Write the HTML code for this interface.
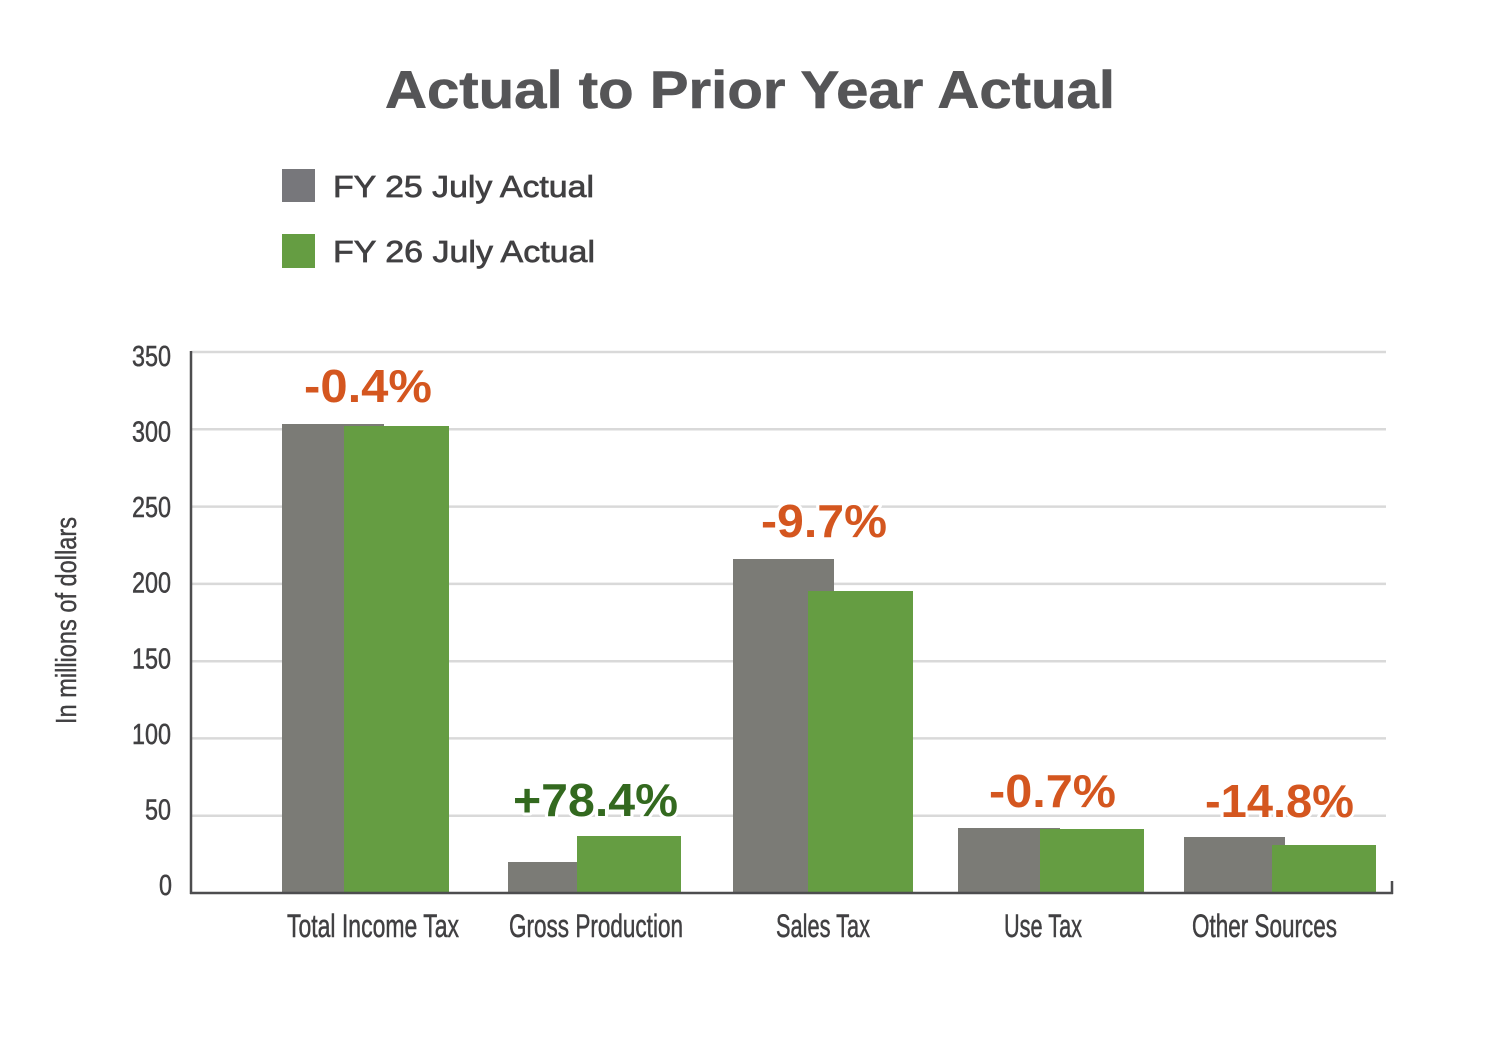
<!DOCTYPE html>
<html>
<head>
<meta charset="utf-8">
<style>
  html,body{margin:0;padding:0;background:#ffffff;}
  svg{display:block;}
  text{font-family:"Liberation Sans",sans-serif;}
</style>
</head>
<body>
<svg width="1500" height="1053" viewBox="0 0 1500 1053" xmlns="http://www.w3.org/2000/svg">
  <rect x="0" y="0" width="1500" height="1053" fill="#ffffff"/>

  <!-- Title -->
  <text x="385" y="108" font-size="53" font-weight="bold" fill="#555557" stroke="#555557" stroke-width="0.6" textLength="730" lengthAdjust="spacingAndGlyphs">Actual to Prior Year Actual</text>

  <!-- Legend -->
  <rect x="282" y="169" width="33" height="33" fill="#77777b"/>
  <text x="333" y="197" font-size="31" fill="#414042" stroke="#414042" stroke-width="0.7" textLength="261" lengthAdjust="spacingAndGlyphs">FY 25 July Actual</text>
  <rect x="282" y="234" width="33" height="34" fill="#659d42"/>
  <text x="333" y="262" font-size="31" fill="#414042" stroke="#414042" stroke-width="0.7" textLength="262" lengthAdjust="spacingAndGlyphs">FY 26 July Actual</text>

  <!-- Gridlines -->
  <g stroke="#d9d9d9" stroke-width="2.5">
    <line x1="191" y1="352" x2="1386" y2="352"/>
    <line x1="191" y1="429.3" x2="1386" y2="429.3"/>
    <line x1="191" y1="506.6" x2="1386" y2="506.6"/>
    <line x1="191" y1="583.9" x2="1386" y2="583.9"/>
    <line x1="191" y1="661.2" x2="1386" y2="661.2"/>
    <line x1="191" y1="738.4" x2="1386" y2="738.4"/>
    <line x1="191" y1="815.7" x2="1386" y2="815.7"/>
  </g>

  <!-- Y tick labels -->
  <g font-size="29" fill="#414042" stroke="#414042" stroke-width="0.5">
    <text x="132" y="366" textLength="39" lengthAdjust="spacingAndGlyphs">350</text>
    <text x="132" y="441.6" textLength="39" lengthAdjust="spacingAndGlyphs">300</text>
    <text x="132" y="517.1" textLength="39" lengthAdjust="spacingAndGlyphs">250</text>
    <text x="132" y="592.7" textLength="39" lengthAdjust="spacingAndGlyphs">200</text>
    <text x="132" y="668.3" textLength="39" lengthAdjust="spacingAndGlyphs">150</text>
    <text x="132" y="743.9" textLength="39" lengthAdjust="spacingAndGlyphs">100</text>
    <text x="145" y="819.4" textLength="26" lengthAdjust="spacingAndGlyphs">50</text>
    <text x="159" y="895" textLength="13" lengthAdjust="spacingAndGlyphs">0</text>
  </g>

  <!-- Y axis title -->
  <text transform="translate(76,724) rotate(-90)" x="0" y="0" font-size="29" fill="#414042" stroke="#414042" stroke-width="0.4" textLength="207" lengthAdjust="spacingAndGlyphs">In millions of dollars</text>

  <!-- Bars -->
  <g>
    <!-- Total Income Tax -->
    <rect x="282" y="424" width="102" height="469" fill="#7b7b76"/>
    <rect x="344" y="426" width="105" height="467" fill="#659d42"/>
    <!-- Gross Production -->
    <rect x="508" y="862" width="102" height="31" fill="#7b7b76"/>
    <rect x="577" y="836" width="104" height="57" fill="#659d42"/>
    <!-- Sales Tax -->
    <rect x="733" y="559" width="101" height="334" fill="#7b7b76"/>
    <rect x="808" y="591" width="105" height="302" fill="#659d42"/>
    <!-- Use Tax -->
    <rect x="958" y="828" width="102" height="65" fill="#7b7b76"/>
    <rect x="1040" y="829" width="104" height="64" fill="#659d42"/>
    <!-- Other Sources -->
    <rect x="1184" y="837" width="101" height="56" fill="#7b7b76"/>
    <rect x="1272" y="845" width="104" height="48" fill="#659d42"/>
  </g>

  <!-- Axes -->
  <g stroke="#4d4d4f" stroke-width="2.5" fill="none">
    <line x1="191" y1="351" x2="191" y2="894"/>
    <line x1="190" y1="893" x2="1393" y2="893"/>
    <line x1="1392" y1="881" x2="1392" y2="894"/>
  </g>

  <!-- Percentage labels -->
  <g font-size="46" font-weight="bold" stroke="#ffffff" stroke-width="6" stroke-linejoin="round" paint-order="stroke">
    <text x="304" y="402" fill="#d4561f" textLength="128" lengthAdjust="spacingAndGlyphs">-0.4%</text>
    <text x="513" y="816" fill="#33691f" textLength="165" lengthAdjust="spacingAndGlyphs">+78.4%</text>
    <text x="761" y="537" fill="#d4561f" textLength="126" lengthAdjust="spacingAndGlyphs">-9.7%</text>
    <text x="989" y="807" fill="#d4561f" textLength="127" lengthAdjust="spacingAndGlyphs">-0.7%</text>
    <text x="1205" y="817" fill="#d4561f" textLength="149" lengthAdjust="spacingAndGlyphs">-14.8%</text>
  </g>

  <!-- X category labels -->
  <g font-size="32" fill="#414042" stroke="#414042" stroke-width="0.5">
    <text x="287" y="937" textLength="172" lengthAdjust="spacingAndGlyphs">Total Income Tax</text>
    <text x="509" y="937" textLength="174" lengthAdjust="spacingAndGlyphs">Gross Production</text>
    <text x="776" y="937" textLength="94" lengthAdjust="spacingAndGlyphs">Sales Tax</text>
    <text x="1004" y="937" textLength="78" lengthAdjust="spacingAndGlyphs">Use Tax</text>
    <text x="1192" y="937" textLength="145" lengthAdjust="spacingAndGlyphs">Other Sources</text>
  </g>
</svg>
</body>
</html>
